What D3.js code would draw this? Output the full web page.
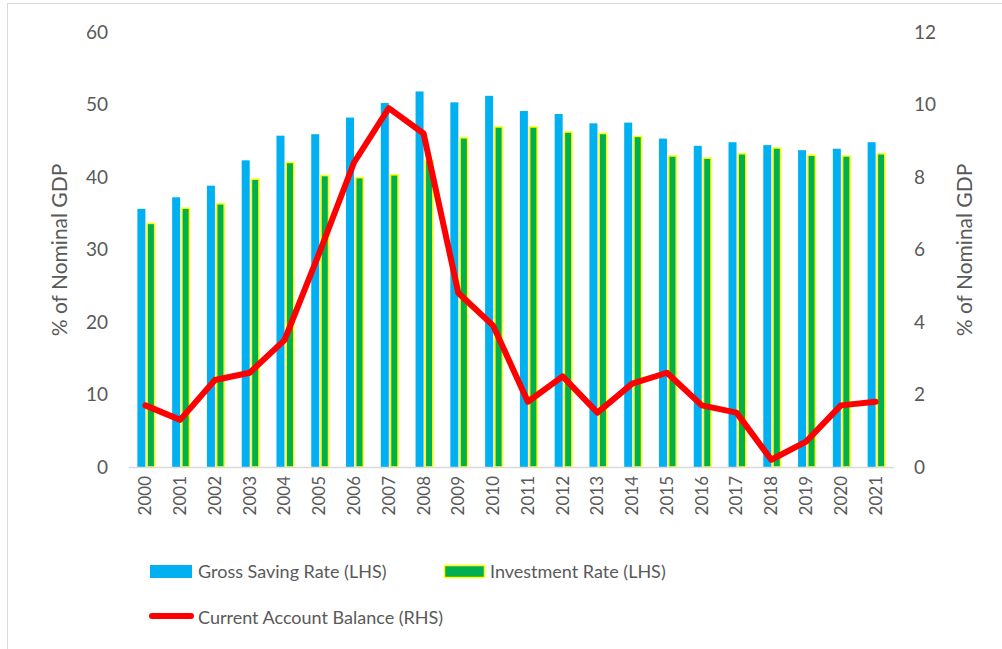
<!DOCTYPE html>
<html>
<head>
<meta charset="utf-8">
<script src="https://cdn.jsdelivr.net/npm/d3@7"></script>
<style>
  body { margin: 0; background: #fff; overflow: hidden; }
  text { font-family: Lato, "Open Sans", sans-serif; fill: #595959; }
</style>
</head>
<body>
<svg width="1002" height="649"></svg>
<script>
var years = ['2000','2001','2002','2003','2004','2005','2006','2007','2008','2009','2010',
             '2011','2012','2013','2014','2015','2016','2017','2018','2019','2020','2021'];
var savingRate = [35.6, 37.2, 38.8, 42.3, 45.7, 45.9, 48.2, 50.2, 51.8, 50.3, 51.2,
                  49.1, 48.7, 47.4, 47.5, 45.3, 44.3, 44.8, 44.4, 43.7, 43.9, 44.8];
var investmentRate = [33.6, 35.7, 36.3, 39.7, 42.0, 40.2, 39.9, 40.3, 42.3, 45.4, 46.9,
                      46.9, 46.2, 46.0, 45.6, 42.9, 42.6, 43.2, 44.0, 43.0, 42.9, 43.2];
var currentAccount = [1.7, 1.3, 2.4, 2.6, 3.5, 5.9, 8.4, 9.9, 9.2, 4.8, 3.9,
                      1.8, 2.5, 1.5, 2.3, 2.6, 1.7, 1.5, 0.2, 0.7, 1.7, 1.8];
var leftTicks = [0, 10, 20, 30, 40, 50, 60];
var rightTicks = [0, 2, 4, 6, 8, 10, 12];

var svg = d3.select('svg');
var margin = { top: 32, left: 129, right: 108, bottom: 182 };
var w = 1002 - margin.left - margin.right;
var h = 649 - margin.top - margin.bottom;

// chart border (right and bottom edges fall outside the picture)
svg.append('rect')
    .attr('x', 7.5).attr('y', 3.5)
    .attr('width', 1010).attr('height', 660)
    .attr('fill', 'none')
    .attr('stroke', '#d9d9d9');

var g = svg.append('g')
    .attr('transform', 'translate(' + margin.left + ',' + margin.top + ')');

var x = d3.scaleBand().domain(years).range([0, w]);
var yL = d3.scaleLinear().domain([0, 60]).range([h, 0]);
var yR = d3.scaleLinear().domain([0, 12]).range([h, 0]);

var barW = 8;

// saving bars
g.selectAll('.saving')
    .data(savingRate)
    .enter()
    .append('rect')
    .attr('class', 'saving')
    .attr('x', function (d, i) { return x(years[i]) + x.bandwidth() / 2 - barW - 1; })
    .attr('y', function (d) { return yL(d); })
    .attr('width', barW)
    .attr('height', function (d) { return h - yL(d); })
    .attr('fill', '#00b0f0');

// investment bars
g.selectAll('.invest')
    .data(investmentRate)
    .enter()
    .append('rect')
    .attr('class', 'invest')
    .attr('x', function (d, i) { return x(years[i]) + x.bandwidth() / 2 + 0.75; })
    .attr('y', function (d) { return yL(d); })
    .attr('width', barW - 0.5)
    .attr('height', function (d) { return h - yL(d); })
    .attr('fill', '#00b050')
    .attr('stroke', '#ffff00')
    .attr('stroke-width', 1.5);

// baseline
g.append('line')
    .attr('x1', 0).attr('x2', w)
    .attr('y1', h + 0.5).attr('y2', h + 0.5)
    .attr('stroke', '#d9d9d9')
    .attr('stroke-width', 1.5);

// current account line
var line = d3.line()
    .x(function (d, i) { return x(years[i]) + x.bandwidth() / 2 - 1; })
    .y(function (d) { return yR(d); });

g.append('path')
    .datum(currentAccount)
    .attr('d', line)
    .attr('fill', 'none')
    .attr('stroke', '#ff0000')
    .attr('stroke-width', 6)
    .attr('stroke-linejoin', 'round')
    .attr('stroke-linecap', 'round');

// left axis
var leftAxis = g.append('g')
    .call(d3.axisLeft(yL).tickValues(leftTicks).tickSize(0).tickPadding(21));
leftAxis.select('.domain').remove();
leftAxis.selectAll('text')
    .style('font-size', '19px')
    .attr('fill', '#595959');

// right axis
var rightAxis = g.append('g')
    .attr('transform', 'translate(' + w + ',0)')
    .call(d3.axisRight(yR).tickValues(rightTicks).tickSize(0).tickPadding(20));
rightAxis.select('.domain').remove();
rightAxis.selectAll('text')
    .style('font-size', '19px')
    .attr('fill', '#595959');

// x axis
var xAxis = g.append('g')
    .attr('transform', 'translate(0,' + h + ')')
    .call(d3.axisBottom(x).tickSize(0));
xAxis.select('.domain').remove();
xAxis.selectAll('text')
    .attr('transform', 'rotate(-90)')
    .attr('x', -9)
    .attr('y', -1)
    .attr('dy', '0.35em')
    .style('text-anchor', 'end')
    .style('font-size', '17px')
    .attr('fill', '#595959');

// axis titles
svg.append('text')
    .attr('transform', 'translate(67,250) rotate(-90)')
    .style('text-anchor', 'middle')
    .style('font-size', '21px')
    .text('% of Nominal GDP');

svg.append('text')
    .attr('transform', 'translate(972,250) rotate(-90)')
    .style('text-anchor', 'middle')
    .style('font-size', '21px')
    .text('% of Nominal GDP');

// legend
var legend = svg.append('g');
legend.append('rect')
    .attr('x', 150).attr('y', 565).attr('width', 42).attr('height', 13)
    .attr('fill', '#00b0f0');
legend.append('text')
    .attr('x', 198).attr('y', 578)
    .style('font-size', '18px')
    .text('Gross Saving Rate (LHS)');

legend.append('rect')
    .attr('x', 444.5).attr('y', 565.5).attr('width', 40).attr('height', 12)
    .attr('fill', '#00b050')
    .attr('stroke', '#ffff00')
    .attr('stroke-width', 1.5);
legend.append('text')
    .attr('x', 490).attr('y', 578)
    .style('font-size', '18px')
    .text('Investment Rate (LHS)');

legend.append('line')
    .attr('x1', 152).attr('x2', 191)
    .attr('y1', 616).attr('y2', 616)
    .attr('stroke', '#ff0000')
    .attr('stroke-width', 6)
    .attr('stroke-linecap', 'round');
legend.append('text')
    .attr('x', 198).attr('y', 624)
    .style('font-size', '18px')
    .text('Current Account Balance (RHS)');
</script>
</body>
</html>
